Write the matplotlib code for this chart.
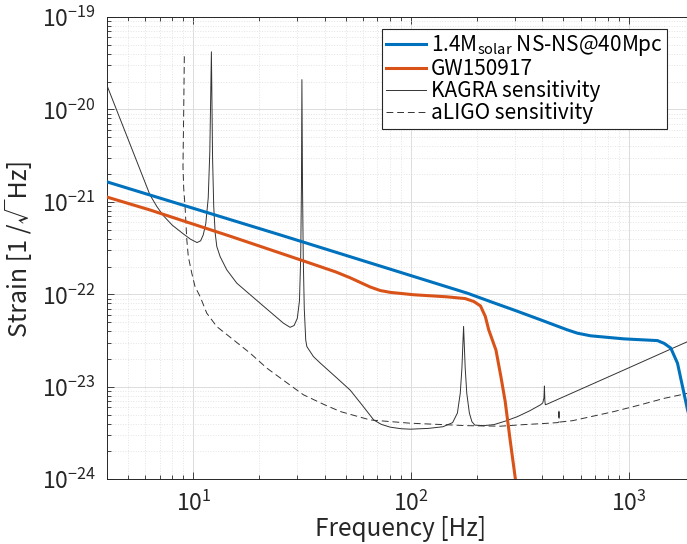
import numpy as np
import matplotlib.pyplot as plt

# fuentes parecidas a la del original (gotica japonesa)
plt.rcParams['font.family'] = ['Noto Sans CJK JP', 'DejaVu Sans']
plt.rcParams['mathtext.fontset'] = 'custom'
plt.rcParams['mathtext.rm'] = 'Noto Sans CJK JP'
plt.rcParams['mathtext.it'] = 'Noto Sans CJK JP'
plt.rcParams['mathtext.default'] = 'regular'

# ---- datos ----
freq_ns = [4, 25, 181, 231, 300, 393, 450, 521, 580, 667, 948, 1352, 1450, 1556, 1670, 1762,
           1858, 2000]
strain_ns = [1.65e-21, 4.4e-22, 1.03e-22, 8.35e-23, 6.7e-23, 5.3e-23, 4.7e-23, 4.13e-23,
             3.8e-23, 3.56e-23, 3.3e-23, 3.16e-23, 2.95e-23, 2.62e-23, 1.8e-23, 1.0e-23,
             5.6e-24, 3.0e-24]

freq_gw = [4, 6.3, 15, 31, 45, 52.5, 59.4, 64.9, 72.1, 80.2, 102.7, 146, 177, 194, 208, 219,
           227, 245, 258, 270, 285, 301, 310]
strain_gw = [1.13e-21, 8.2e-22, 4.2e-22, 2.36e-22, 1.75e-22, 1.51e-22, 1.32e-22, 1.2e-22,
             1.1e-22, 1.05e-22, 9.9e-23, 9.4e-23, 9.0e-23, 8.36e-23, 7.5e-23, 5.76e-23,
             4.13e-23, 2.5e-23, 1.3e-23, 7e-24, 2.6e-24, 1.0e-24, 6e-25]

freq_kagra = [4, 4.6, 5.28, 6.32, 6.8, 7.28, 8.0, 9.0, 9.7, 10.4, 10.8, 11.1, 11.4, 11.7,
              11.9, 12.1, 12.25, 12.4, 12.59, 12.81, 13.27, 14.24, 15.83, 20.26, 25.9,
              27.8, 29.0, 30.0, 30.7, 31.1, 31.35, 31.5, 31.7, 31.95, 32.3, 32.8, 33.2,
              35.6, 38.3, 45, 52.5, 60, 67.3, 73, 80.2, 90, 99, 120, 140, 155, 163, 168,
              171, 174, 177, 180, 185, 190, 196, 215, 240, 270, 307, 350, 393, 402, 407,
              409, 411, 413, 421, 948, 1556, 1858, 2000]
strain_kagra = [1.85e-20, 8.0e-21, 3.5e-21, 1.19e-21, 8.9e-22, 7.1e-22, 5.6e-22, 4.5e-22,
                3.95e-22, 3.63e-22, 3.8e-22, 4.4e-22, 5.8e-22, 1.1e-21,
                3.5e-21, 4.2e-20, 3.0e-21, 9.0e-22, 4.63e-22, 3.29e-22, 2.56e-22, 1.84e-22,
                1.32e-22, 8.0e-23, 4.88e-23,
                4.4e-23, 4.6e-23, 5.5e-23, 8.5e-23, 2.5e-22, 1.5e-21, 2.1e-20, 1.5e-21,
                2.5e-22, 7e-23, 3.2e-23, 2.72e-23,
                2.12e-23, 1.8e-23, 1.28e-23, 9.2e-24, 6.2e-24, 4.38e-24, 3.92e-24,
                3.66e-24, 3.52e-24, 3.48e-24, 3.55e-24, 3.7e-24, 4.1e-24, 5.2e-24, 8.5e-24,
                1.6e-23, 4.5e-23, 1.6e-23, 8.5e-24, 5.2e-24, 4.2e-24, 3.85e-24, 3.8e-24,
                3.9e-24, 4.25e-24, 4.75e-24, 5.5e-24, 6.4e-24, 6.7e-24, 7.6e-24,
                1.02e-23, 7e-24, 6.4e-24, 6.5e-24, 1.52e-23, 2.56e-23, 3.08e-23, 3.3e-23]

freq_aligo = [9.09, 9.02, 8.96, 9.03, 9.16, 9.33, 9.48, 9.83, 10.18, 10.74, 11.52, 12.81,
              15.28, 18.23, 21.76, 26, 32, 40, 47.3, 64.8, 99, 140, 180, 257, 329, 400,
              470, 476, 477, 478, 550, 667, 853, 1132, 1450, 1858, 2000]
strain_aligo = [3.75e-20, 8e-21, 2.4e-21, 1.4e-21, 8.9e-22, 3.89e-22, 2.56e-22, 1.7e-22,
                1.21e-22, 9.46e-23, 6.26e-23, 4.48e-23,
                3.22e-23, 2.31e-23, 1.59e-23, 1.17e-23, 8.2e-24, 6.4e-24, 5.4e-24, 4.38e-24,
                4.04e-24, 3.9e-24, 3.8e-24, 3.75e-24, 3.9e-24, 4.0e-24,
                4.1e-24, 4.15e-24, 5.7e-24, 4.15e-24, 4.3e-24, 4.75e-24, 5.4e-24, 6.4e-24,
                7.5e-24, 8.5e-24, 9.0e-24]

# ---- figura ----
fig = plt.figure(figsize=(6.87, 5.44), dpi=100)
ax = fig.add_axes([0.1553, 0.119, 0.8557, 0.8498])

ax.loglog(freq_ns, strain_ns, color='#0072BD', lw=2.2,
          label=r'1.4M$_{\mathrm{solar}}$ NS-NS@40Mpc', zorder=4)
ax.loglog(freq_gw, strain_gw, color='#D95319', lw=2.2, label='GW150917', zorder=4)
ax.loglog(freq_kagra, strain_kagra, color='#333333', lw=0.7, label='KAGRA sensitivity', zorder=3)
ax.loglog(freq_aligo, strain_aligo, color='#333333', lw=0.7, ls=(0, (7, 4)),
          label='aLIGO sensitivity', zorder=3)

ax.set_xlim(4, 2000)
ax.set_ylim(1e-24, 1e-19)
ax.set_xticks([10, 100, 1000])
ax.set_yticks([1e-24, 1e-23, 1e-22, 1e-21, 1e-20, 1e-19])

ax.grid(which='major', color='#dcdcdc', lw=0.7, ls='-')
ax.grid(which='minor', color='#e4e4e4', lw=0.7, ls=':')
ax.set_axisbelow(True)

ax.tick_params(which='both', direction='in', top=True, right=True,
               colors='#262626', labelsize=16.5)
ax.tick_params(axis='x', which='major', pad=8)
ax.tick_params(axis='y', which='major', pad=8)
ax.tick_params(which='major', length=5, width=0.6)
ax.tick_params(which='minor', length=3, width=0.6)
for s in ax.spines.values():
    s.set_color('#262626')
    s.set_linewidth(0.7)

ax.set_xlabel('Frequency [Hz]', fontsize=17.5, color='#262626', labelpad=0)
ax.set_ylabel('Strain [1 /√Hz]', fontsize=18, color='#262626', labelpad=6)

leg = ax.legend(loc='upper left', bbox_to_anchor=(381.7 / 687, 1 - 29.3 / 544),
                bbox_transform=fig.transFigure, borderaxespad=0, fontsize=15,
                fancybox=False, framealpha=1, edgecolor='#262626',
                handlelength=1.95, handletextpad=0.2, labelspacing=0.0, borderpad=0.2)
leg.get_frame().set_linewidth(0.8)

plt.savefig('out.png', dpi=100)
